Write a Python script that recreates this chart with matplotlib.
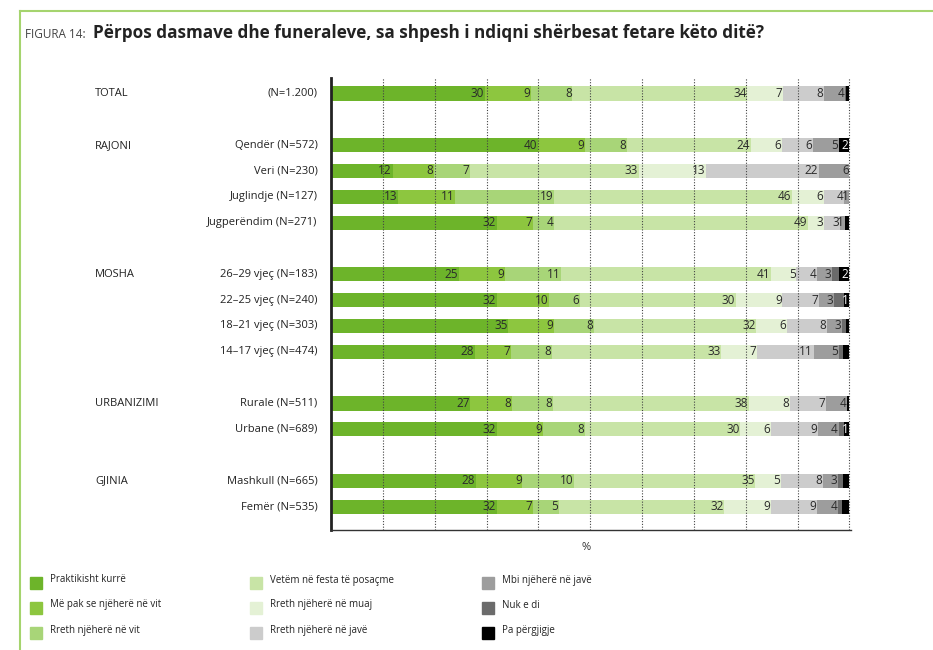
import matplotlib.pyplot as plt
from matplotlib.lines import Line2D
from matplotlib.patches import Rectangle
import numpy as np

plt.rcParams['font.family'] = ['Open Sans', 'DejaVu Sans']

categories = ['Praktikisht kurrë', 'Më pak se njëherë në vit', 'Rreth njëherë në vit',
              'Vetëm në festa të posaçme', 'Rreth njëherë në muaj', 'Rreth njëherë në javë',
              'Mbi njëherë në javë', 'Nuk e di', 'Pa përgjigje']
colors = ['#6db42a', '#8dc63f', '#a8d578', '#c8e4a6', '#e4f1d5',
          '#cccccc', '#9d9d9d', '#6b6b6b', '#000000']

groups = ['TOTAL', 'RAJONI', 'MOSHA', 'URBANIZIMI', 'GJINIA']
row_labels = ['(N=1.200)',
              'Qendër (N=572)', 'Veri (N=230)', 'Juglindje (N=127)', 'Jugperëndim (N=271)',
              '26\u201329 vjeç (N=183)', '22\u201325 vjeç (N=240)', '18\u201321 vjeç (N=303)', '14\u201317 vjeç (N=474)',
              'Rurale (N=511)', 'Urbane (N=689)',
              'Mashkull (N=665)', 'Femër (N=535)']
row_group = [0, 1, 1, 1, 1, 2, 2, 2, 2, 3, 3, 4, 4]

# fractional values = thin slivers without a printed label
values = np.array([
    [30, 9, 8, 34, 7, 8, 4, 0.3, 0.6],
    [40, 9, 8, 24, 6, 6, 5, 0, 2],
    [12, 8, 7, 33, 13, 22, 6, 0, 0],
    [13, 11, 19, 46, 6, 4, 1, 0, 0],
    [32, 7, 4, 49, 3, 3, 1, 0, 0.9],
    [25, 9, 11, 41, 5, 4, 3, 1.4, 2],
    [32, 10, 6, 30, 9, 7, 3, 1.9, 1],
    [35, 9, 8, 32, 6, 8, 3, 0.8, 0.6],
    [28, 7, 8, 33, 7, 11, 5, 0.8, 1.2],
    [27, 8, 8, 38, 8, 7, 4, 0, 0.5],
    [32, 9, 8, 30, 6, 9, 4, 1.1, 1],
    [28, 9, 10, 35, 5, 8, 3, 0.9, 1.3],
    [32, 7, 5, 32, 9, 9, 4, 0.8, 1.4],
])

ypos = [0, 2, 3, 4, 5, 7, 8, 9, 10, 12, 13, 15, 16]

fig = plt.figure(figsize=(9.33, 6.5), dpi=100)
ax = fig.add_axes([331 / 933, 1 - 530 / 650, 520 / 933, 452 / 650])

widths = values / values.sum(axis=1, keepdims=True) * 100
left = np.zeros(len(ypos))
for j, cat in enumerate(categories):
    ax.barh(ypos, widths[:, j], left=left, height=0.55, color=colors[j], zorder=2)
    for i, y in enumerate(ypos):
        v = values[i, j]
        if v >= 1 and v == int(v):
            tc = 'white' if j == 8 else '#2a2a2a'
            ax.text(left[i] + widths[i, j] - 0.15, y, f'{int(v)}', ha='right', va='center',
                    fontsize=8.5, color=tc, zorder=5)
    left += widths[:, j]

for g in range(10, 101, 10):
    ax.axvline(g, color='#444444', lw=0.8, ls=(0, (1, 1.5)), zorder=3)

ax.set_xlim(0, 100.3)
ax.set_ylim(16.9, -0.6)
ax.set_xticks([])
ax.set_yticks([])
for s in ['top', 'right']:
    ax.spines[s].set_visible(False)
ax.spines['left'].set_linewidth(2)
ax.spines['left'].set_color('#222222')
ax.spines['bottom'].set_linewidth(1)
ax.spines['bottom'].set_color('#333333')

for i, y in enumerate(ypos):
    ax.text(-0.026, y, row_labels[i], transform=ax.get_yaxis_transform(), ha='right', va='center',
            fontsize=8, color='#222222')
first_rows = {}
for i, g in enumerate(row_group):
    first_rows.setdefault(g, ypos[i])
for g, name in enumerate(groups):
    ax.text(-(331 - 95) / 520, first_rows[g], name, transform=ax.get_yaxis_transform(),
            ha='left', va='center', fontsize=8, color='#222222')

fig.text(586 / 933, 1 - 547 / 650, '%', ha='center', va='center', fontsize=8, color='#333333')

# title
fig.text(25 / 933, 1 - 34 / 650, 'FIGURA 14:', ha='left', va='center', fontsize=8.5, color='#444444')
fig.text(93 / 933, 1 - 33 / 650, 'Përpos dasmave dhe funeraleve, sa shpesh i ndiqni shërbesat fetare këto ditë?',
         ha='left', va='center', fontsize=12.3, fontweight='bold', color='#222222')

# frame lines
fig.add_artist(Line2D([20 / 933, 1], [1 - 11 / 650, 1 - 11 / 650], color='#a5d46e', lw=1.5))
fig.add_artist(Line2D([20 / 933, 20 / 933], [0, 1 - 11 / 650], color='#a5d46e', lw=1.5))

# legend
col_x = [30, 250, 482]
row_y = [583, 608, 633]
sq = 12
for j, cat in enumerate(categories):
    cx = col_x[j // 3]
    cy = row_y[j % 3]
    fig.add_artist(Rectangle((cx / 933, 1 - (cy + sq / 2) / 650), sq / 933, sq / 650,
                             transform=fig.transFigure, color=colors[j]))
    fig.text((cx + 20) / 933, 1 - (cy - 3) / 650, cat, ha='left', va='center', fontsize=7, color='#222222')

fig.savefig('out.png', dpi=100)
